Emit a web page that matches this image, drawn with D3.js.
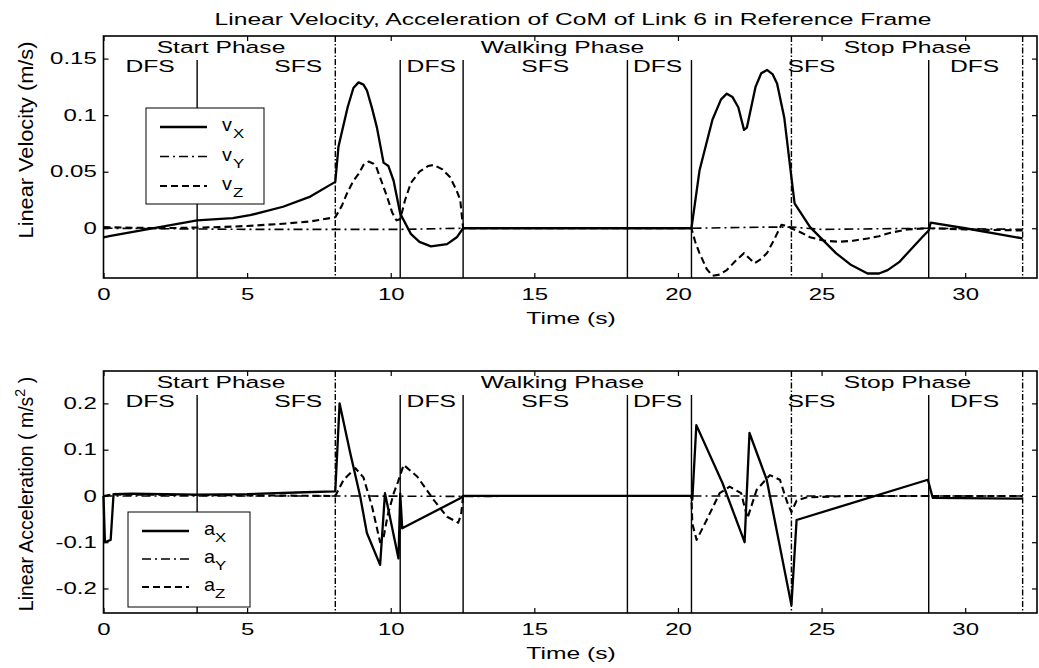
<!DOCTYPE html>
<html>
<head>
<meta charset="utf-8">
<script src="https://cdn.jsdelivr.net/npm/d3@7"></script>
<style>
  body { margin: 0; background: #fff; }
  svg text { font-family: "Liberation Sans", Arial, Helvetica, sans-serif; fill: #000; }
</style>
</head>
<body>
<svg id="chart" width="1039" height="668"></svg>
<script>
// phase boundaries (s)
var phaseTimes = [8.07, 23.95, 32.0];
var subPhaseTimes = [3.26, 10.33, 12.52, 18.24, 20.47, 28.73];

// phase annotations: [text, time of centre, row]
var phaseLabels = [
  ['Start Phase', 4.09, 0], ['Walking Phase', 15.98, 0], ['Stop Phase', 27.99, 0],
  ['DFS', 1.62, 1], ['SFS', 6.78, 1], ['DFS', 11.41, 1], ['SFS', 15.38, 1],
  ['DFS', 19.29, 1], ['SFS', 24.65, 1], ['DFS', 30.33, 1]
];

var xTicks = [0, 5, 10, 15, 20, 25, 30];
var velTicks = [0, 0.05, 0.1, 0.15];
var accTicks = [-0.2, -0.1, 0, 0.1, 0.2];
var axisNames = ['X', 'Y', 'Z'];

// linear velocity (m/s)
var vx = [[0, -0.008], [0.2, -0.007], [3.26, 0.007], [4.5, 0.009], [5.1, 0.0115], [6.25, 0.019], [7.2, 0.028],
  [8.07, 0.041], [8.18, 0.072], [8.5, 0.107], [8.7, 0.124], [8.88, 0.129], [9.05, 0.127], [9.17, 0.122],
  [9.35, 0.106], [9.52, 0.089], [9.75, 0.058], [9.92, 0.055], [10.1, 0.042], [10.33, 0.013], [10.7, -0.005],
  [11.0, -0.012], [11.4, -0.016], [11.96, -0.014], [12.3, -0.008], [12.52, 0], [20.47, 0], [20.75, 0.051],
  [21.2, 0.096], [21.5, 0.114], [21.7, 0.119], [21.9, 0.116], [22.1, 0.107], [22.3, 0.087], [22.4, 0.089],
  [22.7, 0.125], [22.9, 0.137], [23.1, 0.14], [23.3, 0.136], [23.45, 0.128], [23.7, 0.098], [23.95, 0.045],
  [24.06, 0.022], [24.6, 0.001], [25.5, -0.022], [26.0, -0.032], [26.6, -0.04], [27.0, -0.04], [27.3, -0.037],
  [27.7, -0.03], [28.1, -0.019], [28.5, -0.008], [28.73, -0.002], [28.8, 0.005], [30, 0.0], [32.0, -0.009]];
var vy = [[0, 0], [5, -0.001], [8.07, -0.001], [10.33, -0.001], [12.52, 0], [20.47, 0], [23.0, 0.001],
  [24.0, 0.001], [25, -0.001], [28.73, 0], [32, -0.001]];
var vz = [[0, 0.001], [2, 0.0], [4, 0.001], [5, 0.002], [6.25, 0.004], [7.2, 0.006], [8.07, 0.0097], [8.3, 0.02],
  [8.48, 0.031], [8.7, 0.042], [8.88, 0.048], [9.05, 0.056], [9.23, 0.059], [9.4, 0.057], [9.5, 0.054],
  [9.7, 0.04], [9.87, 0.028], [10.05, 0.014], [10.2, 0.007], [10.33, 0.008], [10.5, 0.025], [10.7, 0.04],
  [11.0, 0.05], [11.3, 0.055], [11.5, 0.056], [11.8, 0.052], [12.07, 0.045], [12.3, 0.033], [12.42, 0.025],
  [12.52, 0], [20.47, 0], [20.6, -0.012], [20.75, -0.022], [21.0, -0.036], [21.2, -0.042], [21.45, -0.041],
  [21.7, -0.037], [22.0, -0.029], [22.3, -0.022], [22.5, -0.027], [22.67, -0.031], [22.9, -0.027],
  [23.1, -0.022], [23.35, -0.01], [23.6, 0.003], [23.8, 0.002], [23.95, 0], [24.3, -0.004], [24.6, -0.008],
  [25.1, -0.011], [25.6, -0.012], [26.1, -0.011], [26.6, -0.009], [27.0, -0.007], [27.4, -0.004],
  [28.0, -0.001], [28.73, 0], [30, -0.001], [32, -0.002]];

// linear acceleration (m/s^2)
var ax = [[0, 0], [0.05, -0.1], [0.25, -0.095], [0.35, 0.004], [1, 0.005], [3.26, 0.003], [5, 0.004], [7.0, 0.008],
  [8.07, 0.01], [8.22, 0.2], [8.59, 0.093], [8.94, -0.002], [9.17, -0.08], [9.63, -0.149], [9.8, 0.006],
  [10.27, -0.135], [10.33, 0.005], [10.4, -0.07], [12.42, -0.005], [12.52, 0], [20.47, 0], [20.5, -0.008],
  [20.64, 0.153], [21.55, 0.028], [22.32, -0.1], [22.49, 0.136], [23.09, 0.035], [23.95, -0.236],
  [24.13, -0.052], [28.7, 0.035], [28.87, -0.004], [32, -0.006]];
var ay = [[0, 0], [8.07, 0], [12.52, -0.001], [20.47, 0], [32, 0]];
var az = [[0, 0], [0.3, 0.003], [3, 0.002], [7.9, 0.0], [8.07, 0], [8.36, 0.035], [8.77, 0.06], [9.05, 0.04],
  [9.35, -0.023], [9.63, -0.1], [9.75, -0.09], [9.9, -0.04], [10.1, 0.005], [10.25, 0.03], [10.45, 0.067],
  [10.92, 0.042], [11.5, -0.009], [11.96, -0.045], [12.35, -0.058], [12.45, -0.04], [12.52, 0], [20.47, 0],
  [20.5, -0.06], [20.65, -0.095], [21.0, -0.052], [21.45, 0.006], [21.8, 0.02], [22.2, 0.006], [22.42, -0.048],
  [22.74, 0.013], [23.2, 0.045], [23.55, 0.035], [23.8, -0.013], [23.95, -0.035], [24.13, -0.01],
  [24.5, -0.003], [26, 0], [32, 0]];

(function () {
  'use strict';

  var svg = d3.select('#chart');
  var x = d3.scaleLinear().domain([0, 32.5]).range([103.5, 1037]);
  var styles = [
    { dash: null, width: 2.3 },
    { dash: '9,4,2,4', width: 1.6 },
    { dash: '7,4', width: 2.1 }
  ];

  // text stretched sideways like the scanned figure
  function label(g, str, px, py, size, anchor, sx) {
    return g.append('text')
      .attr('transform', 'translate(' + px + ',' + py + ') scale(' + sx + ',1)')
      .attr('text-anchor', anchor)
      .style('font-size', size + 'px')
      .text(str);
  }

  label(svg, 'Linear Velocity, Acceleration of CoM of Link 6 in Reference Frame', 573, 25, 17, 'middle', 1.45);

  function drawPanel(cfg) {
    var g = svg.append('g');
    var y = d3.scaleLinear().domain(cfg.yDomain).range([cfg.bottom, cfg.top]);

    // sub phase lines
    g.selectAll('line.sub').data(subPhaseTimes).enter().append('line')
      .attr('x1', function (d) { return x(d); }).attr('x2', function (d) { return x(d); })
      .attr('y1', cfg.top + 24).attr('y2', cfg.bottom)
      .attr('stroke', '#000').attr('stroke-width', 1.4);
    // phase boundaries
    g.selectAll('line.phase').data(phaseTimes).enter().append('line')
      .attr('x1', function (d) { return x(d); }).attr('x2', function (d) { return x(d); })
      .attr('y1', cfg.top).attr('y2', cfg.bottom)
      .attr('stroke', '#000').attr('stroke-width', 1.4).attr('stroke-dasharray', '6,2,1.5,2');

    // phase text
    phaseLabels.forEach(function (p) {
      label(g, p[0], x(p[1]), cfg.top + (p[2] === 0 ? 17 : 36), 17, 'middle', 1.45);
    });

    var line = d3.line().x(function (d) { return x(d[0]); }).y(function (d) { return y(d[1]); });
    cfg.series.forEach(function (s, i) {
      g.append('path').datum(s)
        .attr('d', line)
        .attr('fill', 'none')
        .attr('stroke', '#000')
        .attr('stroke-width', styles[i].width)
        .attr('stroke-dasharray', styles[i].dash)
        .attr('stroke-linejoin', 'round');
    });

    // axes with inward ticks
    var xb = g.append('g').attr('transform', 'translate(0,' + cfg.bottom + ')')
      .call(d3.axisBottom(x).tickValues(xTicks).tickSize(-5).tickSizeOuter(0).tickPadding(10.6));
    g.append('g').attr('transform', 'translate(0,' + cfg.top + ')')
      .call(d3.axisTop(x).tickValues(xTicks).tickSize(-5).tickSizeOuter(0).tickFormat(''));
    var yl = g.append('g').attr('transform', 'translate(' + x(0) + ',0)')
      .call(d3.axisLeft(y).tickValues(cfg.yTicks).tickSize(-5).tickSizeOuter(0).tickPadding(4.5)
        .tickFormat(function (d) { return String(d); }));
    g.append('g').attr('transform', 'translate(' + x.range()[1] + ',0)')
      .call(d3.axisRight(y).tickValues(cfg.yTicks).tickSize(-5).tickSizeOuter(0).tickFormat(''));
    g.selectAll('.domain').remove();
    g.selectAll('.tick line').attr('stroke', '#000').attr('stroke-width', 1.2);
    xb.selectAll('text').style('font-size', '16px').attr('transform', 'scale(1.5,1)');
    yl.selectAll('text').style('font-size', '16px').attr('transform', 'scale(1.5,1)');
    g.selectAll('.tick text').attr('fill', '#000');
    xb.attr('font-family', null);
    yl.attr('font-family', null);

    g.append('rect')
      .attr('x', x(0)).attr('y', cfg.top)
      .attr('width', x.range()[1] - x(0)).attr('height', cfg.bottom - cfg.top)
      .attr('fill', 'none').attr('stroke', '#000').attr('stroke-width', 1.6);

    // axis titles
    label(g, 'Time (s)', 571, cfg.bottom + 46, 17, 'middle', 1.45);
    var yt = g.append('text')
      .attr('transform', 'translate(33,' + cfg.yTitleY + ') rotate(-90) scale(' + cfg.yTitleScale + ',1.4)')
      .attr('text-anchor', 'middle')
      .style('font-size', '15px')
      .text(cfg.yTitle);
    if (cfg.yTitleSup) {
      yt.append('tspan').attr('baseline-shift', 'super').style('font-size', '11px').text(cfg.yTitleSup);
      yt.append('tspan').text(' )');
    }

    // legend
    var lg = cfg.legend;
    g.append('rect').attr('x', lg.x).attr('y', lg.y).attr('width', lg.w).attr('height', lg.h)
      .attr('fill', '#fff').attr('stroke', '#000').attr('stroke-width', 1);
    axisNames.forEach(function (n, i) {
      var ly = lg.y + 19 + i * lg.step;
      g.append('line')
        .attr('x1', lg.x + 14).attr('x2', lg.x + 61).attr('y1', ly).attr('y2', ly)
        .attr('stroke', '#000').attr('stroke-width', styles[i].width)
        .attr('stroke-dasharray', styles[i].dash);
      label(g, cfg.sym, lg.x + 76, ly + 4, 18, 'start', 1.1);
      label(g, n, lg.x + 87, ly + 11, 12, 'start', 1.4);
    });
  }

  drawPanel({
    top: 36, bottom: 278, yDomain: [-0.044, 0.17], yTicks: velTicks,
    series: [vx, vy, vz], sym: 'v',
    legend: { x: 146, y: 108, w: 118, h: 96, step: 29.5 },
    yTitle: 'Linear Velocity (m/s)', yTitleY: 140, yTitleScale: 1.45
  });
  drawPanel({
    top: 371, bottom: 613, yDomain: [-0.253, 0.27], yTicks: accTicks,
    series: [ax, ay, az], sym: 'a',
    legend: { x: 128, y: 512, w: 122, h: 95, step: 28 },
    yTitle: 'Linear Acceleration ( m/s', yTitleSup: '2', yTitleY: 494, yTitleScale: 1.3
  });
})();
</script>
</body>
</html>
